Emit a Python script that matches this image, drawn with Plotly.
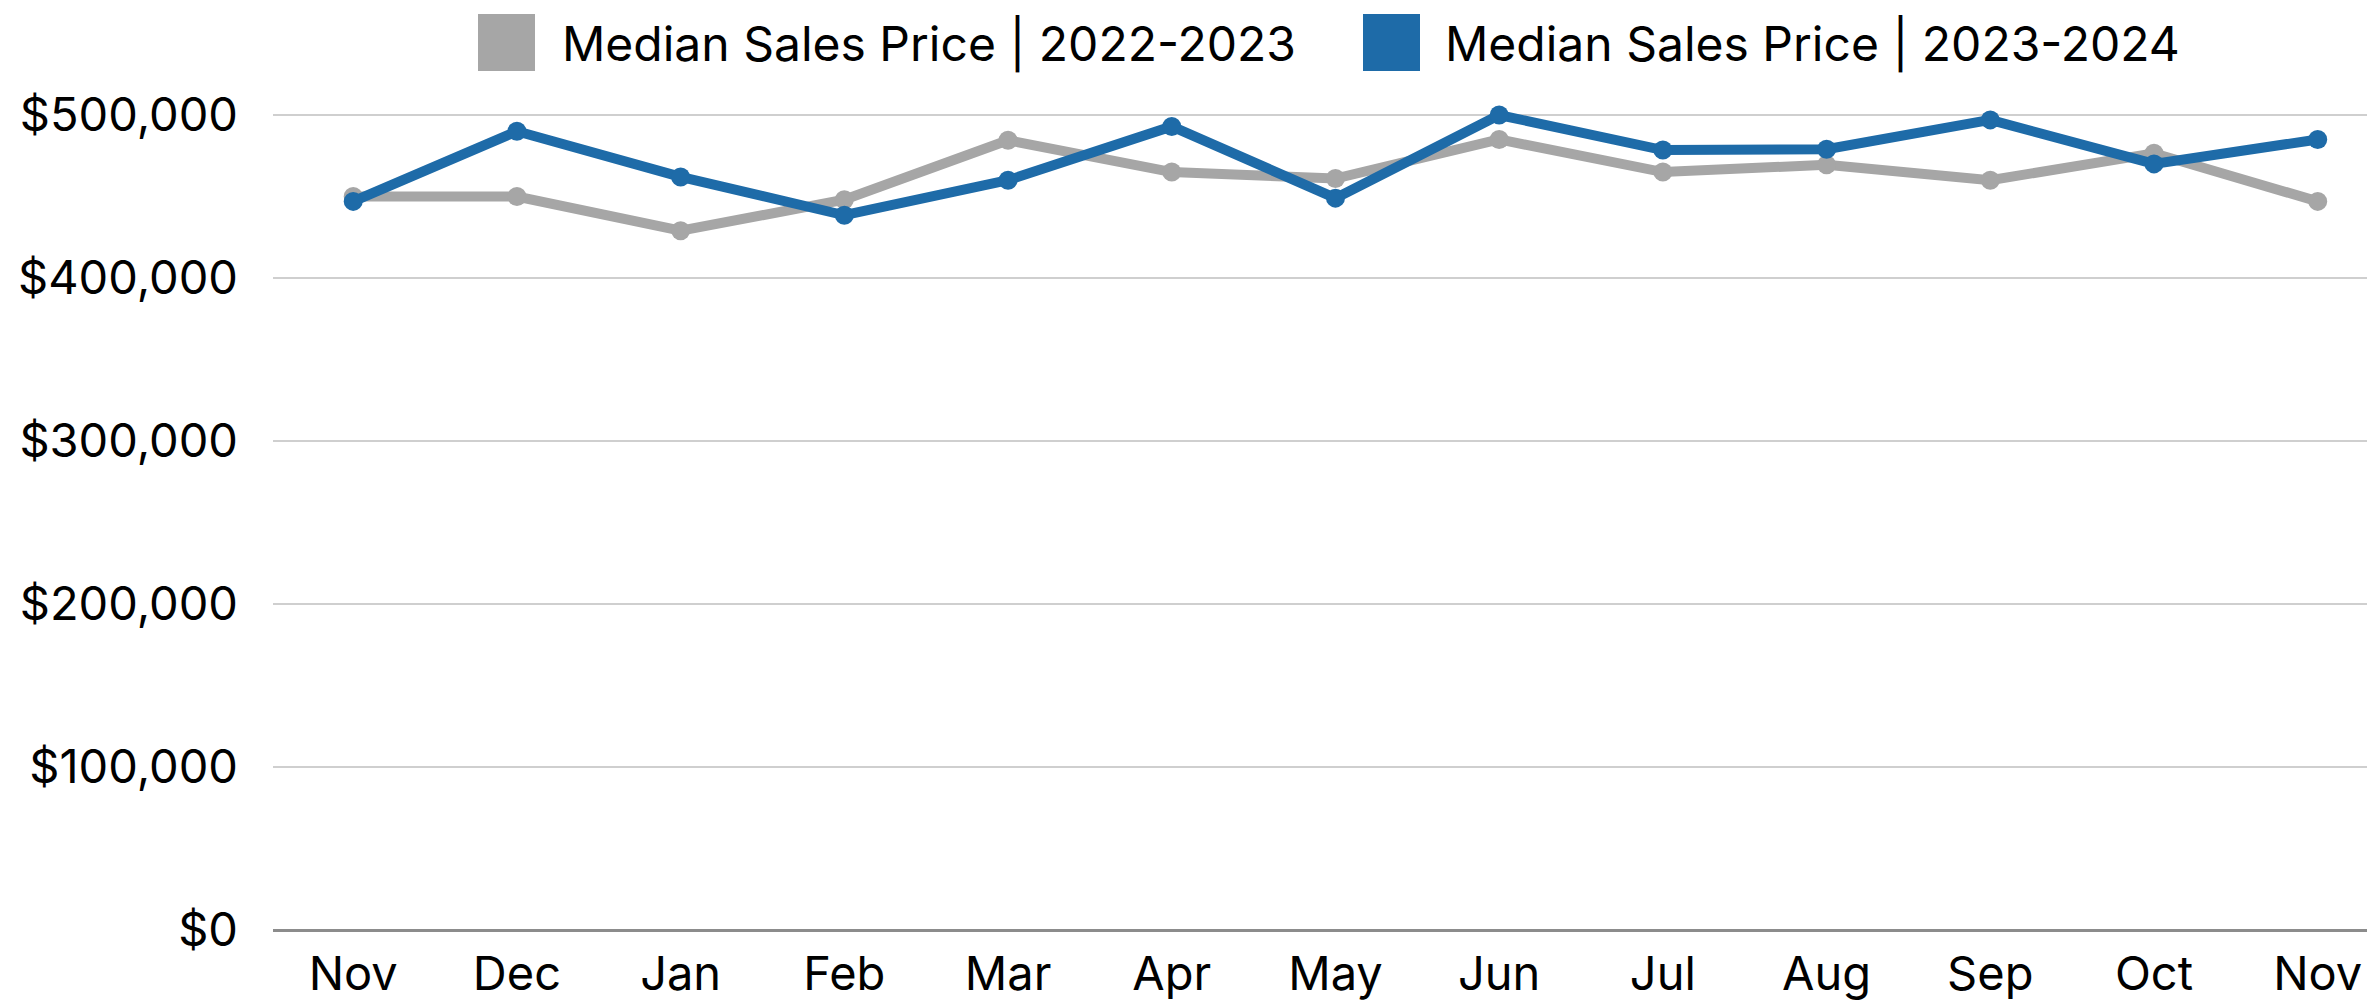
import plotly.graph_objects as go

months = ["Nov", "Dec", "Jan", "Feb", "Mar", "Apr", "May", "Jun", "Jul", "Aug", "Sep", "Oct", "Nov"]
series_names = ["Median Sales Price | 2022-2023", "Median Sales Price | 2023-2024"]
price_2022_2023 = [450000, 450000, 429000, 448000, 484500, 465000, 461000, 485000, 465000, 469500, 460000, 476500, 447000]
price_2023_2024 = [447000, 490000, 462000, 438500, 460000, 493000, 449000, 500000, 478500, 479000, 497000, 470000, 485000]
y_tick_values = [0, 100000, 200000, 300000, 400000, 500000]
y_tick_labels = ["$0", "$100,000", "$200,000", "$300,000", "$400,000", "$500,000"]

colors = ["#A6A6A6", "#1E6BA8"]
FONT = "Inter"

OFF = 8  # page body margin
W, H = 2375 - OFF, 1003 - OFF
# target page-pixel positions
PLOT_LEFT, PLOT_TOP, PLOT_BOTTOM = 273, 55, 930
ML, MR, MT, MB = PLOT_LEFT - OFF, 0, PLOT_TOP - OFF, (1003 - PLOT_BOTTOM)
PW, PH = W - ML - MR, H - MT - MB

def px_x(x):
    return (x - OFF - ML) / PW

def px_y(y):
    return (PLOT_BOTTOM - y) / PH

fig = go.Figure()
for name, vals, col in zip(series_names, [price_2022_2023, price_2023_2024], colors):
    fig.add_trace(go.Scatter(
        x=list(range(len(months))), y=vals, name=name, mode="lines+markers",
        line=dict(color=col, width=10), marker=dict(color=col, size=19),
        showlegend=False,
    ))

# custom legend (square swatches)
legend_items = [(478, 560), (1363, 1443)]
shapes = []
annotations = []
for (sx, tx), name, col in zip(legend_items, series_names, colors):
    shapes.append(dict(type="rect", xref="paper", yref="paper",
                       x0=px_x(sx), x1=px_x(sx + 57), y0=px_y(71), y1=px_y(14),
                       fillcolor=col, line=dict(width=0)))
    annotations.append(dict(text=name, xref="paper", yref="paper", x=px_x(tx), y=px_y(44),
                            xanchor="left", yanchor="middle", showarrow=False,
                            font=dict(family=FONT, size=48, color="#000000")))

fig.update_layout(
    width=W, height=H,
    margin=dict(l=ML, r=MR, t=MT, b=MB),
    paper_bgcolor="white", plot_bgcolor="white",
    font=dict(family=FONT, color="#000000"),
    shapes=shapes, annotations=annotations,
    xaxis=dict(
        range=[-0.49, 12.35], tickmode="array", tickvals=list(range(len(months))), ticktext=months,
        showgrid=False, zeroline=False, showline=False, ticks="",
        tickfont=dict(family=FONT, size=47, color="#000000"), ticklabelstandoff=12,
        automargin=False,
    ),
    yaxis=dict(
        range=[0, PH / 1.63 * 1000], tickmode="array", tickvals=y_tick_values, ticktext=y_tick_labels,
        showgrid=True, gridcolor="#CFCFCF", gridwidth=2,
        zeroline=True, zerolinecolor="#8C8C8C", zerolinewidth=3,
        showline=False, ticks="",
        tickfont=dict(family=FONT, size=47, color="#000000"), ticklabelstandoff=34,
        automargin=False,
    ),
)

fig.write_html("out.html")
